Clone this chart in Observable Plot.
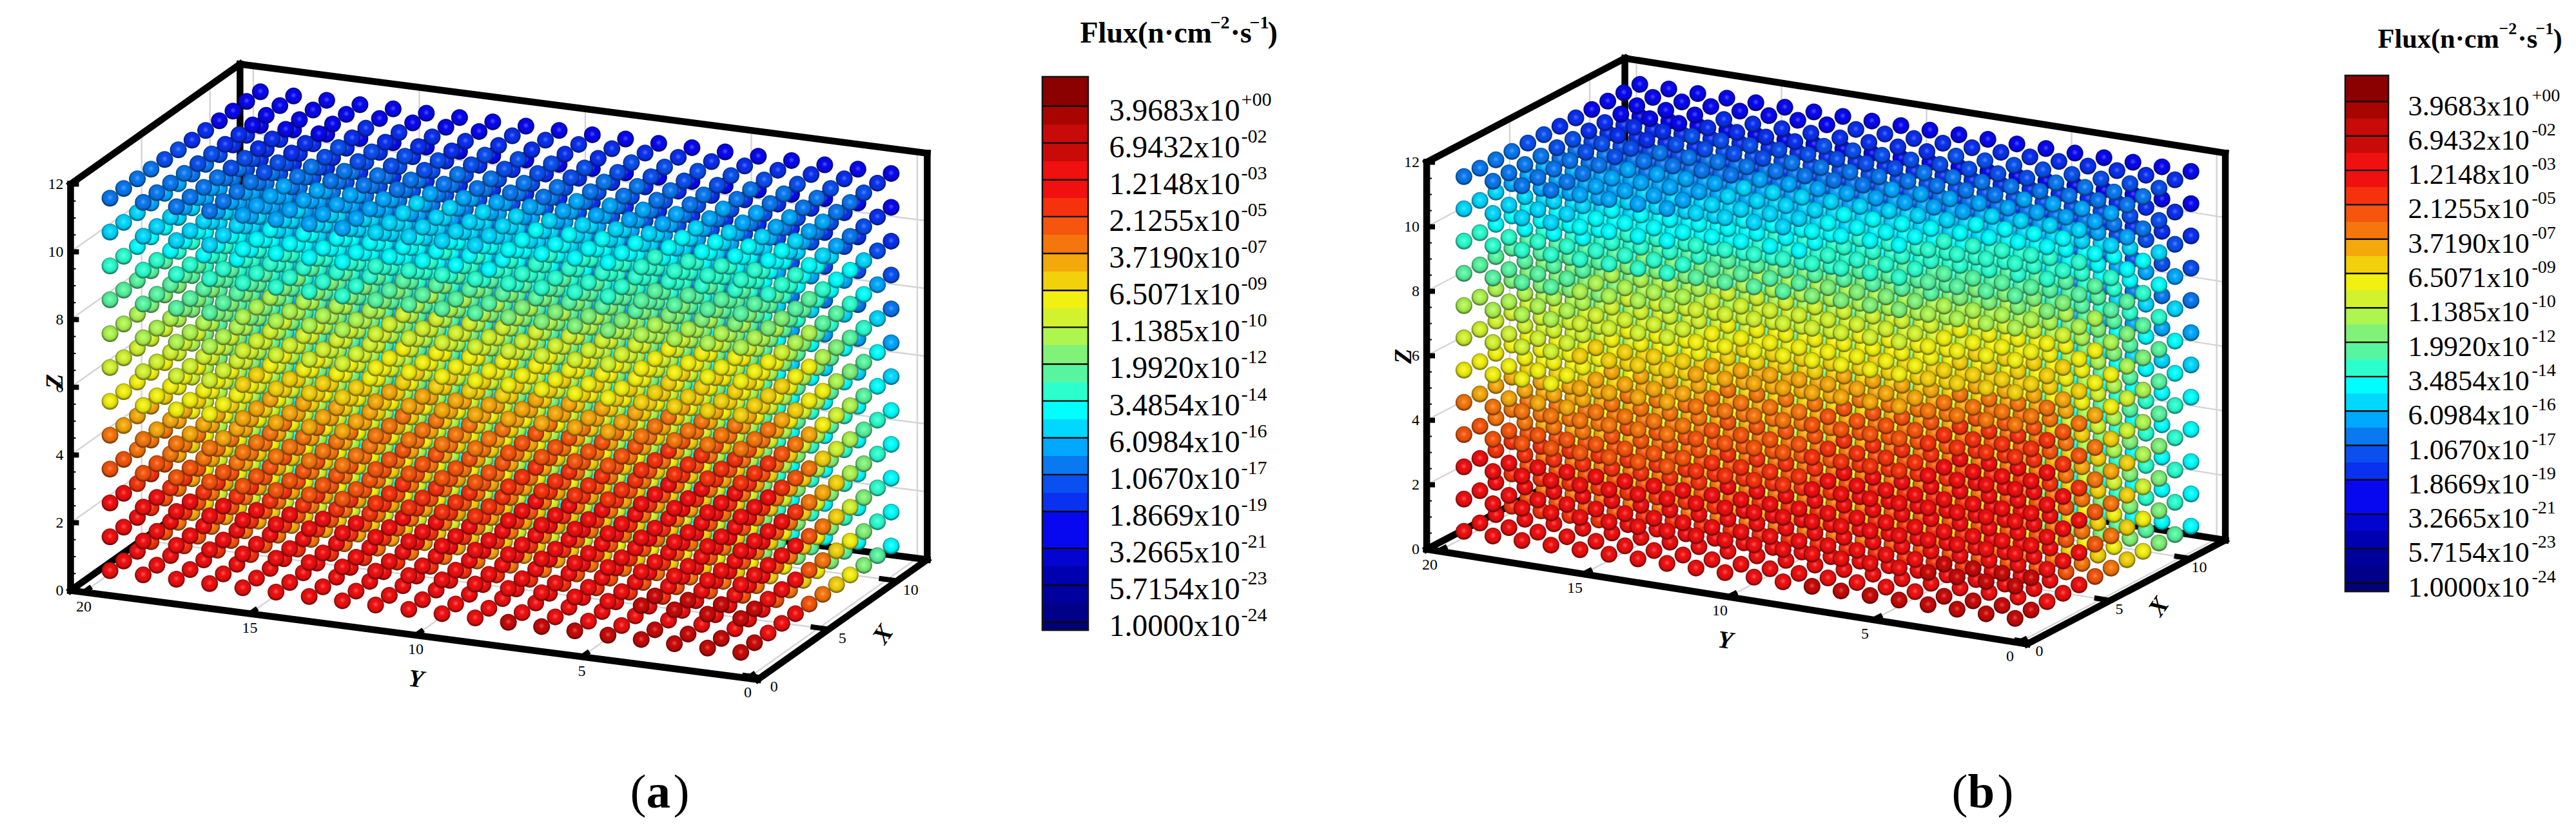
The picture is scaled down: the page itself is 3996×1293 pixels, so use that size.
<!DOCTYPE html>
<html>
<head>
<meta charset="utf-8">
<script src="https://cdn.jsdelivr.net/npm/d3@7"></script>
<script src="https://cdn.jsdelivr.net/npm/@observablehq/plot@0.6"></script>
<style>html,body{margin:0;padding:0;background:#fff}svg{display:block}</style>
</head>
<body>
<div id="chart"></div>
<script>
// ---- data ----
const xCentres = [0.5,1.5,2.5,3.5,4.5,5.5,6.5,7.5,8.5,9.5,10.5,11.5];
const yCentres = [0.5,1.5,2.5,3.5,4.5,5.5,6.5,7.5,8.5,9.5,10.5,11.5,12.5,13.5,14.5,15.5,16.5,17.5,18.5,19.5];
const zCentres = [11.5,10.5,9.5,8.5,7.5,6.5,5.5,4.5,3.5,2.5,1.5,0.5];
const xTicks = [0,5,10];
const yTicks = [0,5,10,15,20];
const zTicks = [0,2,4,6,8,10,12];
const zMinor = [0.5,1,1.5,2.5,3,3.5,4.5,5,5.5,6.5,7,7.5,8.5,9,9.5,10.5,11,11.5];
const legendMantissa = ["3.9683","6.9432","1.2148","2.1255","3.7190","6.5071","1.1385","1.9920","3.4854","6.0984","1.0670","1.8669","3.2665","5.7154","1.0000"];
const legendExponent = ["+00","-02","-03","-05","-07","-09","-10","-12","-14","-16","-17","-19","-21","-23","-24"];
const bandColours = ["#8b0000","#a80500","#c80a08","#c80a08","#f01010","#f01010","#f5320c","#f5550c","#f5760c","#f5a80c","#f2d00c","#f2f010","#d2f230","#aef550","#80f278","#58f5a0","#2bffce","#00ffff","#00d8ff","#00a8ff","#0a78f0","#0a50f0","#0a30f0","#0808f0","#0808f0","#0404d0","#0000b0","#00009c","#000088","#00007a"];
// legend band of each sphere; rows run Z 11.5 -> 0.5, columns X 0.5 -> 11.5
const bandsY0to4 = [
[16,16,17,17,18,19,19,20,20,21,22,23],[15,15,16,16,16,17,18,19,20,21,22,23],[13,13,14,14,15,15,16,17,17,18,21,22],[11,11,11,12,13,13,15,15,16,17,19,21],
[10,10,10,10,11,11,13,14,15,16,18,20],[8,8,8,9,10,11,11,13,14,15,17,19],[6,6,6,7,8,9,11,12,13,15,17,18],[5,5,5,6,7,8,10,12,13,15,16,17],
[4,4,4,5,6,8,9,10,13,14,16,17],[4,4,4,4,5,7,8,10,12,14,16,17],[3,3,4,4,5,7,8,10,11,14,16,17],[3,3,4,4,5,7,8,10,11,14,15,17]];
const bandsY4to8 = [
[17,17,17,18,19,19,20,20,21,21,22,23],[16,16,16,16,17,18,18,19,20,21,22,23],[14,14,15,15,15,16,16,17,18,19,21,22],[12,12,12,13,13,14,15,16,16,18,19,21],
[11,11,11,11,12,12,13,14,15,16,18,20],[9,9,9,10,10,11,12,13,14,15,17,19],[7,7,7,8,9,10,11,12,14,15,17,18],[6,6,6,7,8,9,10,12,13,15,16,17],
[5,5,5,6,7,8,10,11,13,14,16,17],[4,4,5,5,6,8,9,10,12,14,16,17],[4,4,4,5,6,7,8,10,12,14,16,17],[3,4,4,5,6,7,8,10,11,14,16,17]];
const bandsY8to12 = [
[18,18,18,18,19,20,20,21,21,22,22,23],[16,17,17,17,18,18,19,19,20,21,22,23],[15,15,15,16,16,16,17,18,18,19,21,22],[12,12,12,13,13,14,15,16,17,18,19,21],
[11,11,11,12,12,13,14,15,15,17,18,20],[9,9,10,10,11,11,13,14,15,16,18,19],[8,8,8,9,9,10,12,13,14,15,17,18],[7,7,7,8,9,10,11,12,14,15,17,18],
[6,6,6,7,8,9,10,11,13,15,16,17],[5,5,5,6,7,8,9,11,13,14,16,17],[4,4,5,5,6,8,9,10,12,14,16,17],[4,4,4,5,6,8,9,10,12,14,16,17]];
const bandsY12to16 = [
[19,19,19,19,20,20,21,21,22,22,23,23],[17,17,17,18,18,19,19,20,20,21,22,23],[16,16,16,16,17,17,18,18,19,20,21,22],[13,13,13,14,14,15,16,17,17,18,20,21],
[12,12,12,12,13,13,15,15,16,17,19,20],[10,10,11,11,12,12,13,14,15,16,18,19],[9,9,9,10,10,11,12,13,15,16,17,19],[8,8,8,8,9,10,11,13,14,15,17,18],
[7,7,7,7,8,9,11,12,13,15,16,18],[5,5,6,6,7,8,10,11,13,15,16,17],[5,5,5,6,7,8,9,11,12,14,16,17],[4,4,5,5,6,8,9,10,12,14,16,17]];
const bandsY16to20 = [
[20,20,20,20,21,21,22,22,23,23,23,23],[18,18,18,19,19,19,20,20,21,22,22,23],[16,16,17,17,17,18,18,19,19,20,21,22],[15,15,15,15,15,16,16,17,18,19,20,21],
[13,13,13,14,14,14,15,16,16,17,19,20],[12,12,12,12,12,13,14,15,15,16,18,19],[11,11,11,11,11,12,13,14,15,16,17,19],[8,9,9,9,10,11,12,13,14,15,17,18],
[7,7,8,8,8,9,11,12,13,15,16,18],[5,5,6,6,7,9,10,11,13,15,16,18],[5,5,5,6,7,8,9,11,12,14,16,17],[5,5,5,6,7,8,9,10,12,14,16,17]];
const bandSlabs = [bandsY0to4,bandsY4to8,bandsY8to12,bandsY12to16,bandsY16to20];
const boxX = [-0.2,12.2], boxY = [-0.3,20.4], boxZ = [0,12];

// ---- layout of the two panels ----
const panels = [
 {name:"a", O:[1163.8,1048], Xu:[21.2,-15], Yu:[-51.5,-6.67], Zu:52.5, depth:[50,21,-16],
  yLab:[0,22], xLab:[21,14], zLabDx:-11,
  titles:[{t:"X",x:1369,y:983,r:-55},{t:"Y",x:645,y:1052,r:7},{t:"Z",x:84,y:591,r:-90}],
  leg:{x0:1617,x1:1688,top:119,line0:164,step:57.14,bottom:977,labX:1720,base0:186,font:47.8,supX:1925,supUp:23,supFont:30},
  head:{font:46,supFont:28,base:65,sup:43,x:[1675,1877,1908,1938,1966]},
  cap:977},
 {name:"b", O:[3135.5,993.3], Xu:[24.8,-13], Yu:[-45,-7.1], Zu:50, depth:[44.6,24,-15],
  yLab:[-13,21], xLab:[14,13], zLabDx:-11,
  titles:[{t:"X",x:3348,y:940,r:-55},{t:"Y",x:2676,y:992,r:7},{t:"Z",x:2176,y:552,r:-90}],
  leg:{x0:3638,x1:3705,top:117,line0:157,step:53.3,bottom:917,labX:3735,base0:178,font:44.3,supX:3927,supUp:22,supFont:28},
  head:{font:42.4,supFont:26,base:73,sup:52,x:[3688,3876,3905,3933,3960]},
  cap:3027}
];
const headPieces = ["Flux(n·cm","−2","·s","−1",")"];
const serif = "Liberation Serif";

function mix(c, other, t){ return d3.interpolateRgb(c, other)(t); }
function gradientDefs(){
  const defs = d3.create("svg:defs");
  bandColours.forEach((c,i)=>{
    const g = defs.append("radialGradient").attr("id","band"+i).attr("cx","50%").attr("cy","46%").attr("r","52%");
    [[0,mix(c,"#fff",0.3)],[0.35,c],[0.72,mix(c,"#000",0.1)],[1,mix(c,"#000",0.55)]]
      .forEach(([o,col])=>g.append("stop").attr("offset",o).attr("stop-color",col));
  });
  return defs.node();
}

function panelMarks(p){
  const proj = (X,Y,Z)=>[p.O[0]+X*p.Xu[0]+Y*p.Yu[0], p.O[1]+X*p.Xu[1]+Y*p.Yu[1]-Z*p.Zu];
  const seg = (a,b)=>{const s=proj(...a),e=proj(...b);return {x1:s[0],y1:s[1],x2:e[0],y2:e[1]};};
  const [x0,x1]=boxX,[y0,y1]=boxY,[z0,z1]=boxZ;

  // grid lines on the floor and the two walls
  const grid = [
    ...xTicks.map(X=>seg([X,y0,z0],[X,y1,z0])), ...xTicks.map(X=>seg([X,y1,z0],[X,y1,z1])),
    ...yTicks.map(Y=>seg([x0,Y,z0],[x1,Y,z0])), ...yTicks.map(Y=>seg([x1,Y,z0],[x1,Y,z1])),
    ...zTicks.map(Z=>seg([x0,y1,Z],[x1,y1,Z])), ...zTicks.map(Z=>seg([x1,y0,Z],[x1,y1,Z]))
  ];
  // black box edges
  const edges = [
    seg([x0,y1,z0],[x0,y1,z1]), seg([x0,y1,z0],[x0,y0,z0]), seg([x0,y0,z0],[x1,y0,z0]),
    seg([x1,y0,z0],[x1,y0,z1]), seg([x1,y0,z1],[x1,y1,z1]), seg([x1,y1,z1],[x0,y1,z1]),
    seg([x1,y1,z1],[x1,y1,z0]), seg([x1,y1,z0],[x1,y0,z0]), seg([x1,y1,z0],[x0,y1,z0])
  ];
  const majorTicks = [
    ...yTicks.map(Y=>seg([x0,Y,z0],[x0+0.55,Y,z0])),
    ...xTicks.map(X=>seg([X,y0,z0],[X,y0+0.55,z0])),
    ...zTicks.map(Z=>{const s=proj(x0,y1,Z);return {x1:s[0],y1:s[1],x2:s[0]+13,y2:s[1]};})
  ];
  const minorTicks = zMinor.map(Z=>{const s=proj(x0,y1,Z);return {x1:s[0],y1:s[1],x2:s[0]+8,y2:s[1]};});

  // spheres, far to near
  const spheres = [];
  xCentres.forEach((X,i)=>yCentres.forEach((Y,j)=>zCentres.forEach((Z,k)=>{
    const [px,py]=proj(X,Y,Z);
    spheres.push({px,py,band:bandSlabs[Math.floor(j/4)][k][i],d:p.depth[0]*X+p.depth[1]*Y+p.depth[2]*Z});
  })));
  spheres.sort((a,b)=>b.d-a.d);

  const link = (data,o)=>Plot.link(data,{x1:"x1",y1:"y1",x2:"x2",y2:"y2",...o});
  const lab = (data,o)=>Plot.text(data,{x:"x",y:"y",text:"t",fontFamily:serif,fill:"black",...o});

  const yLabels = yTicks.map(Y=>{const s=proj(x0,Y,z0);return {x:s[0]+p.yLab[0],y:s[1]+p.yLab[1],t:String(Y)};});
  const xLabels = xTicks.map(X=>{const s=proj(X,y0,z0);return {x:s[0]+p.xLab[0],y:s[1]+p.xLab[1],t:String(X)};});
  const zLabels = zTicks.map(Z=>{const s=proj(x0,y1,Z);return {x:s[0]+p.zLabDx,y:s[1],t:String(Z)};});

  // legend
  const L = p.leg;
  const lineAt = i=>L.line0+i*L.step;
  const legendBands = bandColours.map((c,i)=>({c,
    y1: i===0?L.top:lineAt((i-1)/2),
    y2: i===bandColours.length-1?L.bottom:lineAt(i/2)}));
  const legendLines = legendMantissa.map((_,i)=>({x1:L.x0,x2:L.x1,y1:lineAt(i),y2:lineAt(i)}));
  const mant = legendMantissa.map((t,i)=>({x:L.labX,y:L.base0+i*L.step,t:t+"x10"}));
  const expo = legendExponent.map((t,i)=>({x:L.supX,y:L.base0+i*L.step-L.supUp,t}));
  const H = p.head;
  const headBig = headPieces.map((t,i)=>({x:H.x[i],y:H.base,t})).filter((_,i)=>i%2===0);
  const headSup = headPieces.map((t,i)=>({x:H.x[i],y:H.sup,t})).filter((_,i)=>i%2===1);

  const capY = 1251, capFont = 75;
  return [
    link(grid,{stroke:"#d4d4d4",strokeWidth:2.4}),
    link(edges,{stroke:"black",strokeWidth:10.5,strokeLinecap:"square"}),
    link(majorTicks,{stroke:"black",strokeWidth:8}),
    link(minorTicks,{stroke:"black",strokeWidth:2}),
    lab(zLabels,{fontSize:24,textAnchor:"end"}),
    lab(yLabels,{fontSize:24}),
    lab(xLabels,{fontSize:24}),
    ...p.titles.map(t=>lab([t],{fontSize:38,fontStyle:"italic",fontWeight:"bold",rotate:t.r})),
    Plot.dot(spheres,{x:"px",y:"py",r:13,fill:"band"}),
    Plot.rect(legendBands,{x1:()=>L.x0,x2:()=>L.x1,y1:"y1",y2:"y2",fill:{value:d=>d.c,scale:null},shapeRendering:"crispEdges"}),
    link(legendLines,{stroke:"#0a0a0a",strokeWidth:2.4}),
    Plot.rect([{}],{x1:()=>L.x0,x2:()=>L.x1,y1:()=>L.top,y2:()=>L.bottom,fill:"none",stroke:"#151515",strokeWidth:2.6}),
    lab(mant,{fontSize:L.font,textAnchor:"start",lineAnchor:"bottom"}),
    lab(expo,{fontSize:L.supFont,textAnchor:"start",lineAnchor:"bottom"}),
    lab(headBig,{fontSize:H.font,fontWeight:"bold",textAnchor:"start",lineAnchor:"bottom"}),
    lab(headSup,{fontSize:H.supFont,fontWeight:"bold",textAnchor:"start",lineAnchor:"bottom"}),
    lab([{x:p.cap,y:capY,t:"("}],{fontSize:capFont,textAnchor:"start",lineAnchor:"bottom"}),
    lab([{x:p.cap+25,y:capY,t:p.name}],{fontSize:capFont,fontWeight:"bold",textAnchor:"start",lineAnchor:"bottom"}),
    lab([{x:p.cap+(p.name==="a"?67:71),y:capY,t:")"}],{fontSize:capFont,textAnchor:"start",lineAnchor:"bottom"})
  ];
}

const chart = Plot.plot({
  width:3996, height:1293, margin:0,
  style:{background:"white",fontFamily:serif},
  x:{domain:[0,3996],range:[0,3996],axis:null},
  y:{domain:[0,1293],range:[0,1293],axis:null},
  color:{type:"ordinal",domain:d3.range(bandColours.length),range:bandColours.map((_,i)=>`url(#band${i})`)},
  marks:[gradientDefs, ...panels.flatMap(panelMarks)]
});
document.getElementById("chart").append(chart);
</script>
</body>
</html>
